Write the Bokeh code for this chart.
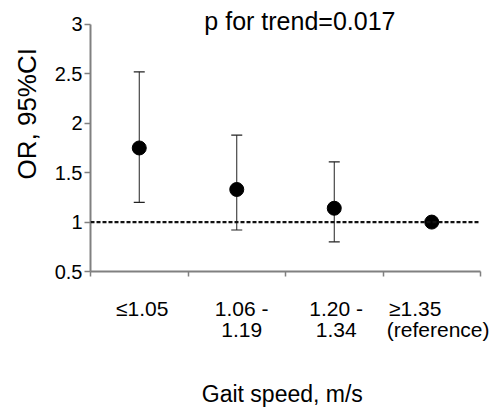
from bokeh.plotting import figure
from bokeh.models import (Range1d, FixedTicker, NumeralTickFormatter, Label, Span,
                          ColumnDataSource, Whisker, TeeHead, Title)
from bokeh.embed import file_html
from bokeh.resources import INLINE

# ---- data ----
categories = ["≤1.05", "1.06 - 1.19", "1.20 - 1.34", "≥1.35 (reference)"]
label_line1 = ["≤1.05", "1.06 -", "1.20 -", "≥1.35"]
label_line2 = ["", "1.19", "1.34", "(reference)"]
odds_ratio = [1.75, 1.33, 1.14, 1.0]
ci_lower = [1.20, 0.92, 0.80, 1.0]
ci_upper = [2.52, 1.88, 1.61, 1.0]
y_ticks = [0.5, 1, 1.5, 2, 2.5, 3]
reference_value = 1.0
title_text = "p for trend=0.017"
y_label = "OR, 95%CI"
x_label = "Gait speed,  m/s"

FONT = "Liberation Sans"
n = len(categories)
xpos = [i + 0.5 for i in range(n)]

# tick-label layout: first three categories as centred two-line blocks,
# the last one with its two lines placed separately (left-aligned look)
shift_block = [0.031, 0.051, 0.02]
tick_pos = []
tick_text = {}
for i in range(n - 1):
    t = xpos[i] + shift_block[i]
    tick_pos.append(t)
    tick_text[t] = label_line1[i] + ("\n" + label_line2[i] if label_line2[i] else "")
t1 = xpos[n - 1] - 0.17
t2 = xpos[n - 1] + 0.066
tick_pos += [t1, t2]
tick_text[t1] = label_line1[n - 1] + "\n"
tick_text[t2] = "\n" + label_line2[n - 1]

y_top = y_ticks[-1] + 0.222  # room for the in-plot title

p = figure(width=494, height=410, output_backend="svg", toolbar_location=None,
           x_range=Range1d(0, n), y_range=Range1d(y_ticks[0], y_top),
           min_border_left=88, min_border_right=14, min_border_top=2,
           min_border_bottom=138)
p.outline_line_color = None
p.xgrid.visible = False
p.ygrid.visible = False
p.background_fill_color = "white"
p.border_fill_color = "white"

# y axis
p.yaxis.ticker = FixedTicker(ticks=y_ticks)
p.yaxis.bounds = (y_ticks[0], y_ticks[-1])
p.yaxis.formatter = NumeralTickFormatter(format="0.[0]")
p.yaxis.axis_line_color = "#808080"
p.yaxis.axis_line_width = 2
p.yaxis.major_tick_line_color = "#808080"
p.yaxis.major_tick_line_width = 1.5
p.yaxis.major_tick_out = 6
p.yaxis.major_tick_in = 0
p.yaxis.minor_tick_line_color = None
p.yaxis.major_label_text_font = FONT
p.yaxis.major_label_text_font_size = "20px"
p.yaxis.major_label_text_color = "black"
p.yaxis.major_label_standoff = 2

# x axis: invisible major ticks carry the labels, minor ticks are the marks
p.xaxis.ticker = FixedTicker(ticks=tick_pos, minor_ticks=list(range(n + 1)))
p.xaxis.major_label_overrides = tick_text
p.xaxis.major_label_text_font = FONT
p.xaxis.major_label_text_font_size = "21px"
p.xaxis.major_label_text_color = "black"
p.xaxis.major_label_text_line_height = 0.95
p.xaxis.major_label_standoff = 20
p.xaxis.major_tick_line_color = None
p.xaxis.major_tick_out = 0
p.xaxis.major_tick_in = 0
p.xaxis.minor_tick_line_color = "#808080"
p.xaxis.minor_tick_line_width = 1.5
p.xaxis.minor_tick_out = 5
p.xaxis.minor_tick_in = 0
p.xaxis.axis_line_color = "#808080"
p.xaxis.axis_line_width = 2
p.xaxis.axis_label = x_label
p.xaxis.axis_label_text_font = FONT
p.xaxis.axis_label_text_font_size = "23px"
p.xaxis.axis_label_text_font_style = "normal"
p.xaxis.axis_label_text_color = "black"
p.xaxis.axis_label_standoff = 37

# y label as a side title
p.add_layout(Title(text=y_label, align="left", offset=92, standoff=19,
                   text_font=FONT, text_font_size="26px",
                   text_font_style="normal", text_color="black"), "left")

# reference line
p.add_layout(Span(location=reference_value, dimension="width", line_color="#111111",
                  line_width=2.2, line_dash="4 2"))

# error bars
src = ColumnDataSource(dict(x=xpos, y=odds_ratio, lo=ci_lower, hi=ci_upper))
wh = Whisker(source=src, base="x", lower="lo", upper="hi", line_color="#222222",
             line_width=1,
             upper_head=TeeHead(size=11, line_color="#222222", line_width=1.2),
             lower_head=TeeHead(size=11, line_color="#222222", line_width=1.2))
p.add_layout(wh)

p.scatter("x", "y", source=src, size=14, fill_color="black", line_color="black")

# title inside the frame, above the top tick
p.add_layout(Label(x=2.148, y=3.03, text=title_text, text_font=FONT,
                   text_font_size="25px", text_align="center",
                   text_baseline="alphabetic", text_color="black"))

open("out.html", "w").write(file_html(p, INLINE))
